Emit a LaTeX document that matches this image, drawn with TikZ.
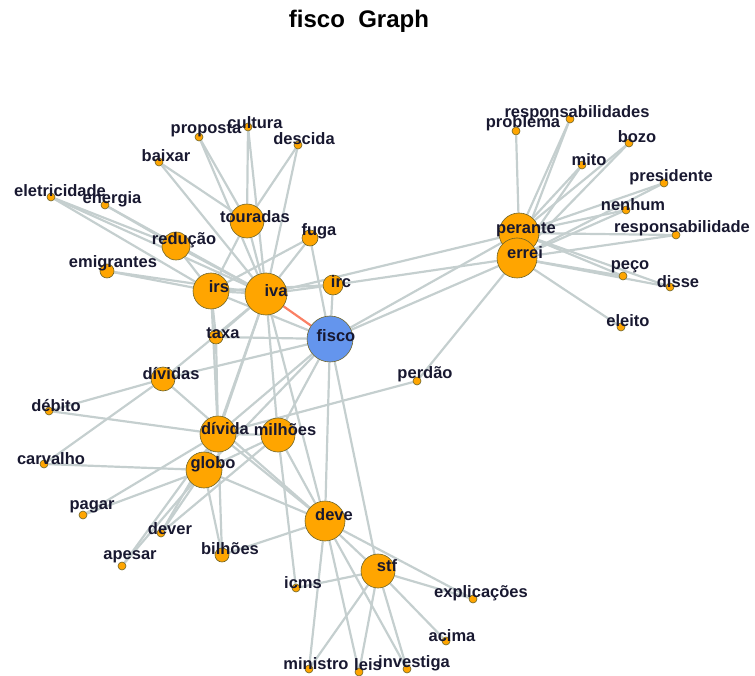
\documentclass[tikz,border=0pt]{standalone}
\usepackage{fontspec}
\setmainfont{Liberation Sans}
\pgfdeclarelayer{edges}
\pgfsetlayers{edges,main}
\definecolor{edgegray}{RGB}{197,207,207}
\definecolor{edgered}{RGB}{250,128,100}
\definecolor{vorange}{RGB}{255,165,0}
\definecolor{vblue}{RGB}{100,149,237}
\definecolor{vborder}{RGB}{110,100,40}
\definecolor{txtnavy}{RGB}{24,24,48}
\tikzset{
  vert/.style={circle, draw=vborder, fill=vorange, line width=0.6pt, inner sep=0pt, minimum size=#1},
  lbl/.style={inner sep=0pt, text=txtnavy, font=\bfseries\fontsize{16.5}{18}\selectfont},
  edge/.style={draw=edgegray, line width=2.2pt},
  hot/.style={draw=edgered, line width=2.2pt},
}
% \vx{name}{x}{y}{diameter}{dx}{dy}{text}
\newcommand\vx[7]{%
  \node[vert=#4] (#1) at (#2,#3) {};
  \node[lbl] (#1-t) at (#2+#5,#3+#6) {#7};}
\begin{document}
\begin{tikzpicture}[x=1pt,y=-1pt]
\useasboundingbox (0,0) rectangle (755,676);
\node[inner sep=0pt, font=\bfseries\fontsize{24}{28}\selectfont] (title) at (359,21) {fisco\ \ Graph};

% central and large vertices
\vx{iva}{266}{294}{42}{10}{-3}{iva}
\vx{irs}{211}{291}{36}{8}{-4}{irs}
\vx{touradas}{247}{221}{34}{8}{-4}{touradas}
\vx{reducao}{176}{246}{28}{8}{-6}{redução}
\vx{irc}{333}{285}{20}{8}{-3}{irc}
\vx{fuga}{310}{238}{16}{9}{-7}{fuga}
\vx{taxa}{216}{337}{14}{7}{-4}{taxa}
\vx{emigrantes}{107}{271}{14}{6}{-8}{emigrantes}
\vx{perante}{519}{233}{40}{7}{-3}{perante}
\vx{errei}{517}{258}{40}{8}{-5}{errei}
\vx{dividas}{163}{379}{24}{8}{-5}{dívidas}
\vx{divida}{218}{434}{36}{7}{-5}{dívida}
\vx{milhoes}{278}{435}{34}{7}{-5}{milhões}
\vx{globo}{204}{470}{36}{9}{-6}{globo}
\vx{deve}{325}{521}{40}{9}{-6}{deve}
\vx{stf}{378}{571}{34}{9}{-5}{stf}
\vx{bilhoes}{222}{555}{14}{8}{-6}{bilhões}
\node[vert=46, fill=vblue] (fisco) at (330,339) {};
\node[lbl] (fisco-t) at (336,336) {fisco};

% small vertices
\vx{proposta}{199}{137}{8}{7}{-7}{proposta}
\vx{cultura}{248}{127}{8}{7}{-4}{cultura}
\vx{descida}{298}{145}{8}{6}{-6}{descida}
\vx{baixar}{159}{162}{8}{7}{-6}{baixar}
\vx{eletricidade}{51}{197}{8}{9}{-6}{eletricidade}
\vx{energia}{105}{205}{8}{7}{-6}{energia}
\vx{problema}{516}{131}{8}{7}{-8}{problema}
\vx{respsd}{570}{119}{8}{7}{-6}{responsabilidades}
\vx{bozo}{629}{143}{8}{8}{-6}{bozo}
\vx{mito}{582}{165}{8}{7}{-5}{mito}
\vx{presidente}{664}{183}{8}{7}{-6}{presidente}
\vx{nenhum}{626}{210}{8}{7}{-5}{nenhum}
\vx{resp}{676}{235}{8}{6}{-7}{responsabilidade}
\vx{peco}{623}{276}{8}{7}{-9}{peço}
\vx{disse}{670}{287}{8}{8}{-5}{disse}
\vx{eleito}{621}{327}{8}{7}{-6}{eleito}
\vx{perdao}{417}{381}{8}{8}{-7}{perdão}
\vx{debito}{49}{411}{8}{7}{-5}{débito}
\vx{carvalho}{44}{464}{8}{7}{-5}{carvalho}
\vx{pagar}{83}{515}{8}{9}{-8}{pagar}
\vx{dever}{161}{533}{8}{9}{-4}{dever}
\vx{apesar}{122}{566}{8}{8}{-9}{apesar}
\vx{icms}{296}{588}{8}{7}{-5}{icms}
\vx{explicacoes}{473}{599}{8}{8}{-6}{explicações}
\vx{acima}{446}{641}{8}{6}{-5}{acima}
\vx{ministro}{309}{669}{8}{7}{-5}{ministro}
\vx{leis}{359}{672}{8}{9}{-7}{leis}
\vx{investiga}{407}{669}{8}{7}{-6}{investiga}

\begin{pgfonlayer}{edges}
  % upper cluster
  \foreach \a/\b in {proposta/touradas, proposta/iva, cultura/touradas, cultura/iva,
      descida/touradas, descida/iva, baixar/touradas, baixar/iva,
      eletricidade/reducao, eletricidade/irs, eletricidade/iva,
      energia/reducao, energia/iva, emigrantes/irs, emigrantes/iva,
      reducao/iva, reducao/irs, touradas/iva, touradas/irs,
      fuga/iva, fuga/fisco, fuga/irs, irc/iva, irc/fisco, irc/irs,
      irs/iva, irs/taxa, irs/fisco, irs/divida,
      taxa/fisco, taxa/divida, taxa/iva,
      iva/dividas, iva/divida, iva/globo, iva/milhoes, iva/deve}
    \draw[edge] (\a) -- (\b);
  % links of the central vertex
  \foreach \b in {dividas, divida, globo, milhoes, deve, stf, perante, errei}
    \draw[edge] (fisco) -- (\b);
  \draw[edge] (perante) -- (iva);
  \draw[edge] (errei) -- (irc);
  \draw[edge] (errei) -- (perdao);
  \draw[edge] (perdao) -- (divida);
  % right fan
  \draw[edge] (problema) -- (perante);
  \draw[edge] (eleito) -- (errei);
  \foreach \a in {respsd, bozo, mito, presidente, nenhum, resp, peco, disse}
    {\draw[edge] (\a) -- (perante); \draw[edge] (\a) -- (errei);}
  % lower cluster
  \foreach \a/\b in {dividas/debito, dividas/carvalho, dividas/deve, debito/divida,
      carvalho/globo, pagar/globo, pagar/divida,
      dever/globo, dever/divida, dever/milhoes, apesar/globo, apesar/divida,
      bilhoes/globo, bilhoes/divida, bilhoes/deve,
      divida/globo, divida/milhoes, divida/deve, globo/deve, globo/milhoes,
      milhoes/deve, milhoes/icms,
      deve/stf, deve/ministro, deve/leis, deve/investiga, deve/explicacoes,
      stf/icms, stf/ministro, stf/leis, stf/investiga, stf/explicacoes, stf/acima}
    \draw[edge] (\a) -- (\b);
  \draw[hot] (iva) -- (fisco);
\end{pgfonlayer}
\end{tikzpicture}
\end{document}
